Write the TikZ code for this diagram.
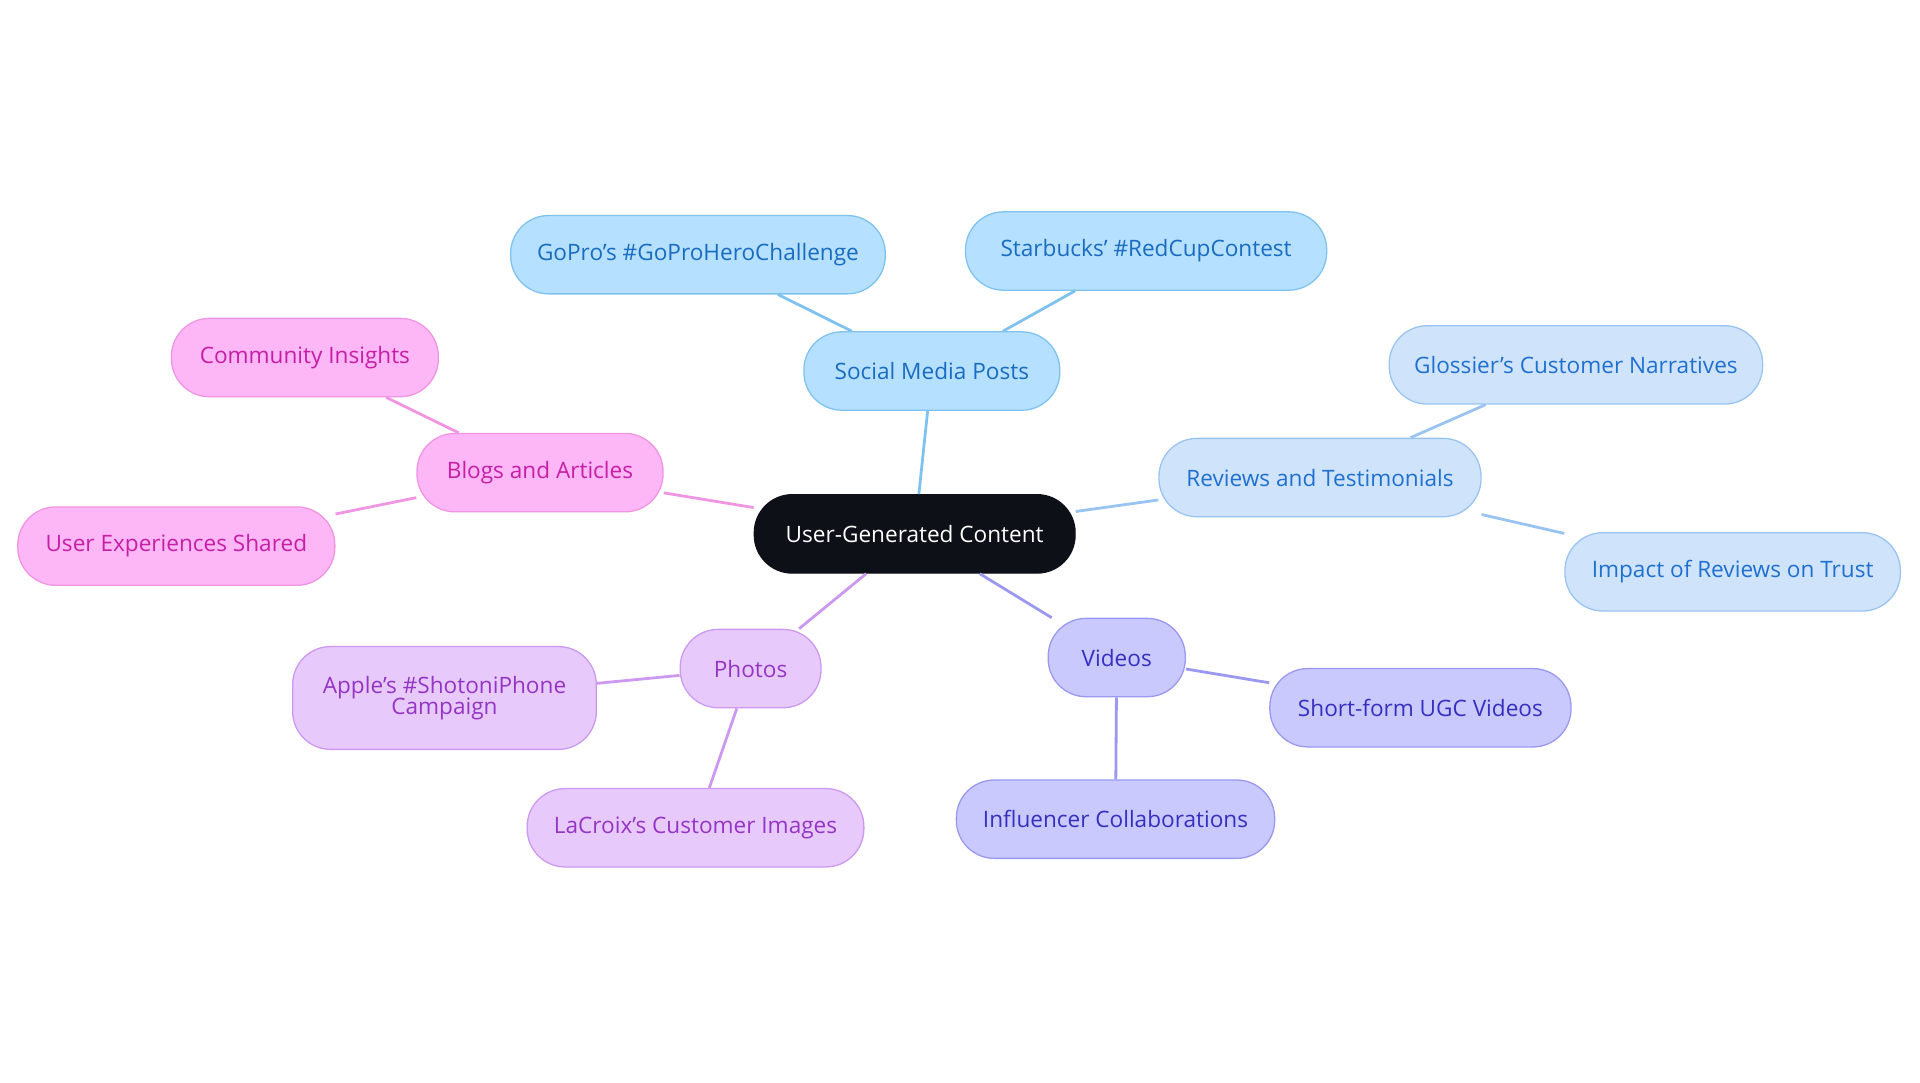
\documentclass[tikz,border=0pt]{standalone}
\usepackage{fontspec}
\setmainfont{Open Sans}
\definecolor{cF}{HTML}{B5E0FF}\definecolor{cS}{HTML}{7FC2F0}\definecolor{cT}{HTML}{1A6CC0}
\definecolor{rF}{HTML}{CFE4FB}\definecolor{rS}{HTML}{99C4F2}\definecolor{rT}{HTML}{2070D0}
\definecolor{vF}{HTML}{C9C9FD}\definecolor{vS}{HTML}{9A98F0}\definecolor{vT}{HTML}{3530C0}
\definecolor{pF}{HTML}{E7CAFB}\definecolor{pS}{HTML}{CC98F0}\definecolor{pT}{HTML}{9535C5}
\definecolor{bF}{HTML}{FDB6F6}\definecolor{bS}{HTML}{F095E2}\definecolor{bT}{HTML}{C520A5}
\definecolor{dark}{HTML}{0D1117}
\begin{document}
\begin{tikzpicture}[x=0.02cm,y=-0.02cm,
 box/.style={rounded corners=0.62cm,minimum height=1.28cm,align=center,font=\fontsize{10.5}{12}\selectfont,line width=0.6pt},
 soc/.style={box,fill=cF,draw=cS,text=cT},
 rev/.style={box,fill=rF,draw=rS,text=rT},
 vid/.style={box,fill=vF,draw=vS,text=vT},
 pho/.style={box,fill=pF,draw=pS,text=pT},
 blg/.style={box,fill=bF,draw=bS,text=bT},
 ln/.style={line width=1.3pt}]
\useasboundingbox (0,0) rectangle (1568,884);
\node[box,fill=dark,draw=dark,text=white,minimum width=5.24cm] (c) at (747,436) {User-Generated Content};
\node[soc,minimum width=4.18cm] (s) at (761,303) {Social Media Posts};
\node[soc,minimum width=6.12cm] (s1) at (570,208) {GoPro's \#GoProHeroChallenge};
\node[soc,minimum width=5.9cm] (s2) at (936,205) {Starbucks' \#RedCupContest};
\node[rev,minimum width=5.26cm] (r) at (1078,390) {Reviews and Testimonials};
\node[rev,minimum width=6.1cm] (r1) at (1287,298) {Glossier's Customer Narratives};
\node[rev,minimum width=5.48cm] (r2) at (1415,467) {Impact of Reviews on Trust};
\node[vid,minimum width=2.24cm] (v) at (912,537) {Videos};
\node[vid,minimum width=4.92cm] (v1) at (1160,578) {Short-form UGC Videos};
\node[vid,minimum width=5.2cm] (v2) at (911,669) {Influencer Collaborations};
\node[pho,minimum width=2.3cm] (p) at (613,546) {Photos};
\node[pho,minimum width=4.96cm,minimum height=1.68cm] (p1) at (363,570) {Apple's \#ShotoniPhone\\[-2pt]Campaign};
\node[pho,minimum width=5.5cm] (p2) at (568,676) {LaCroix's Customer Images};
\node[blg,minimum width=4.02cm] (b) at (441,386) {Blogs and Articles};
\node[blg,minimum width=4.36cm] (b1) at (249,292) {Community Insights};
\node[blg,minimum width=5.18cm] (b2) at (144,446) {User Experiences Shared};
\draw[ln,cS] (c) -- (s); \draw[ln,cS] (s) -- (s1); \draw[ln,cS] (s) -- (s2);
\draw[ln,rS] (c) -- (r); \draw[ln,rS] (r) -- (r1); \draw[ln,rS] (r) -- (r2);
\draw[ln,vS] (c) -- (v); \draw[ln,vS] (v) -- (v1); \draw[ln,vS] (v) -- (v2);
\draw[ln,pS] (c) -- (p); \draw[ln,pS] (p) -- (p1); \draw[ln,pS] (p) -- (p2);
\draw[ln,bS] (c) -- (b); \draw[ln,bS] (b) -- (b1); \draw[ln,bS] (b) -- (b2);
\end{tikzpicture}
\end{document}
